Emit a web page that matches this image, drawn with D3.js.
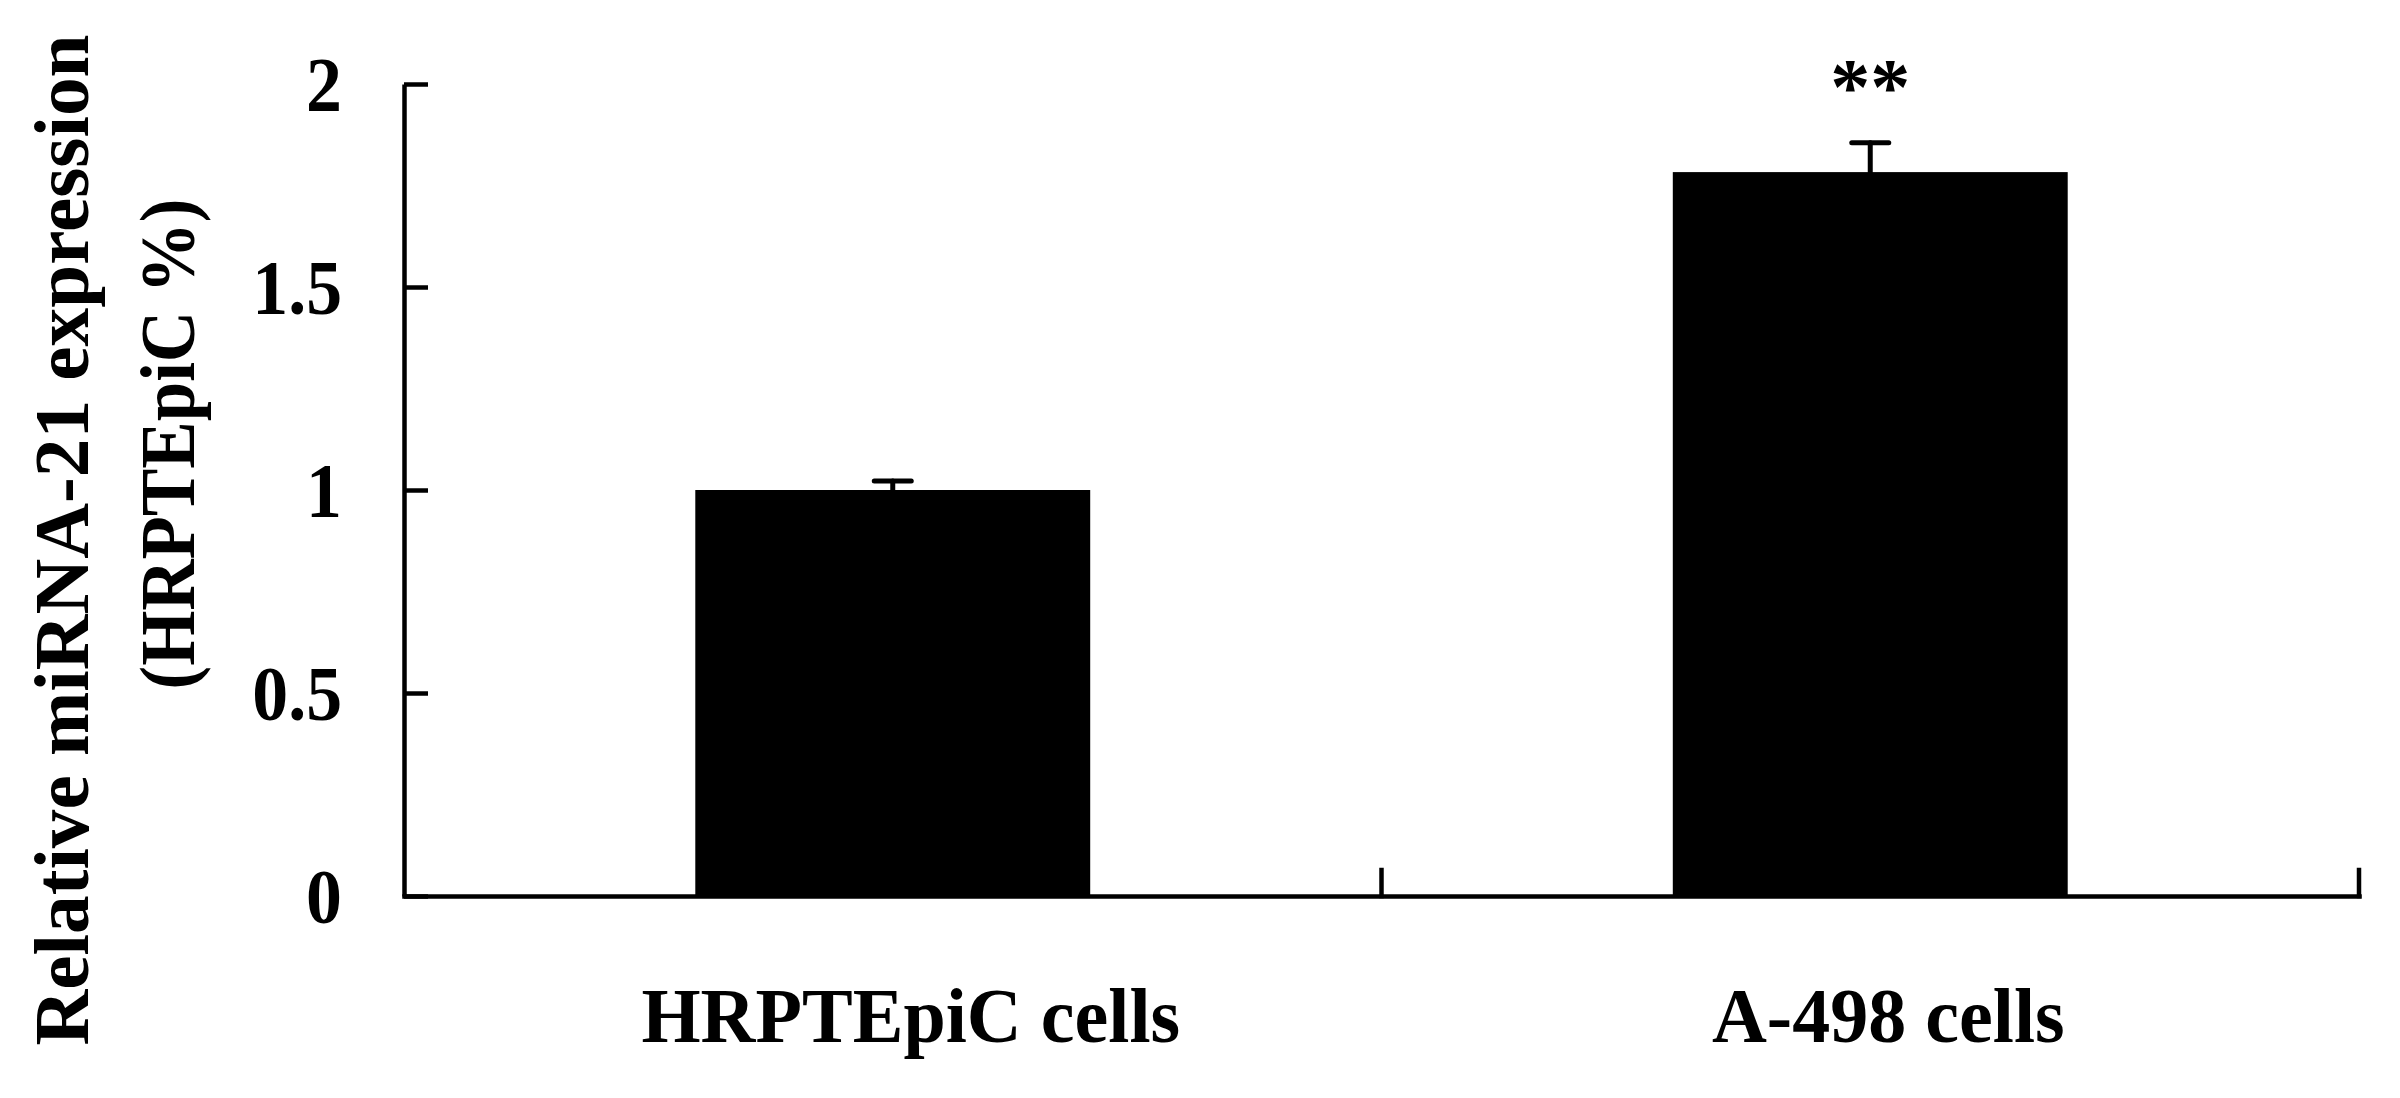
<!DOCTYPE html>
<html>
<head>
<meta charset="utf-8">
<script src="https://cdn.jsdelivr.net/npm/d3@7"></script>
<style>
  html, body { margin: 0; padding: 0; background: #fff; }
  svg { display: block; }
  text { font-family: "Liberation Serif", "Times New Roman", serif; font-weight: bold; fill: #000; }
</style>
</head>
<body>
<svg id="chart" width="2400" height="1098"></svg>
<script>
// ---- data ----
const categories = ["HRPTEpiC cells", "A-498 cells"];
const values = [1.0, 1.783];
const errors = [0.022, 0.072];
const significance = ["", "**"];
const yTicks = [0, 0.5, 1, 1.5, 2];
const yTickLabels = ["0", "0.5", "1", "1.5", "2"];
const yLabelLines = ["Relative miRNA-21 expression", "(HRPTEpiC %)"];

// ---- layout ----
const W = 2400, H = 1098;
const plot = { left: 404, right: 2359, top: 84, bottom: 896 };
const fontSize = 78;
const condense = 0.92;

const svg = d3.select("#chart");

const x = d3.scaleBand()
  .domain(categories)
  .range([plot.left, plot.right])
  .paddingInner(0.596)
  .paddingOuter(0.298);

const y = d3.scaleLinear()
  .domain([0, 2])
  .range([plot.bottom, plot.top]);

function condenseText(sel, factor) {
  sel.each(function () {
    const len = this.getComputedTextLength();
    d3.select(this)
      .attr("textLength", len * factor)
      .attr("lengthAdjust", "spacingAndGlyphs");
  });
}

// bars
svg.append("g").selectAll("rect")
  .data(categories)
  .join("rect")
  .attr("x", d => x(d))
  .attr("width", x.bandwidth())
  .attr("y", (d, i) => y(values[i]))
  .attr("height", (d, i) => y(0) - y(values[i]))
  .attr("fill", "#000");

// error bars (upper only)
const capW = 37;
const eg = svg.append("g").attr("stroke", "#000").attr("stroke-width", 5).attr("stroke-linecap", "round");
categories.forEach((c, i) => {
  const cx = x(c) + x.bandwidth() / 2;
  eg.append("line")
    .attr("x1", cx).attr("x2", cx)
    .attr("y1", y(values[i])).attr("y2", y(values[i] + errors[i]));
  eg.append("line")
    .attr("x1", cx - capW / 2).attr("x2", cx + capW / 2)
    .attr("y1", y(values[i] + errors[i])).attr("y2", y(values[i] + errors[i]));
});

// significance marks
svg.append("g").selectAll("text")
  .data(categories)
  .join("text")
  .attr("x", d => x(d) + x.bandwidth() / 2)
  .attr("y", (d, i) => y(values[i] + errors[i]) - 29)
  .attr("text-anchor", "middle")
  .style("font-size", "80px")
  .style("font-weight", "bold")
  .text((d, i) => significance[i]);

// y axis
const yAxis = d3.axisLeft(y)
  .tickValues(yTicks)
  .tickFormat((d, i) => yTickLabels[i])
  .tickSizeInner(-24)
  .tickSizeOuter(0)
  .tickPadding(62);
const gy = svg.append("g")
  .attr("transform", `translate(${plot.left},0)`)
  .call(yAxis);
gy.select(".domain").attr("stroke", "#000").attr("stroke-width", 4.5);
gy.selectAll(".tick line").attr("stroke", "#000").attr("stroke-width", 4.5);
gy.selectAll(".tick text")
  .attr("dy", null)
  .attr("dominant-baseline", null)
  .attr("y", 26)
  .style("font-size", fontSize + "px")
  .style("font-family", "'Liberation Serif', 'Times New Roman', serif")
  .style("font-weight", "bold")
  .call(condenseText, condense);

// x axis
const xAxis = d3.axisBottom(x).tickSize(0).tickPadding(0).tickSizeOuter(0);
const gx = svg.append("g")
  .attr("transform", `translate(0,${plot.bottom})`)
  .call(xAxis);
gx.select(".domain").attr("stroke", "#000").attr("stroke-width", 4.5).attr("stroke-linecap", "square");
gx.selectAll(".tick text")
  .attr("dy", null)
  .attr("x", 18)
  .attr("y", 146)
  .style("font-size", fontSize + "px")
  .style("font-family", "'Liberation Serif', 'Times New Roman', serif")
  .style("font-weight", "bold")
  .call(condenseText, 0.975);

// boundary ticks on x axis (between and after categories)
const boundaries = d3.range(1, categories.length + 1).map(i => x.range()[0] + i * x.step());
gx.append("g").selectAll("line")
  .data(boundaries)
  .join("line")
  .attr("x1", d => d).attr("x2", d => d)
  .attr("y1", 0).attr("y2", -26)
  .attr("stroke", "#000").attr("stroke-width", 4.5).attr("stroke-linecap", "square");

// y axis title (two lines, rotated)
const titleBaselines = [88, 194];
const titleCenters = [540, 444];
yLabelLines.forEach((t, i) => {
  svg.append("text")
    .attr("transform", `translate(${titleBaselines[i]},${titleCenters[i]}) rotate(-90)`)
    .attr("text-anchor", "middle")
    .style("font-size", fontSize + "px")
    .text(t)
    .call(condenseText, i === 0 ? 0.99 : 0.91);
});
</script>
</body>
</html>
